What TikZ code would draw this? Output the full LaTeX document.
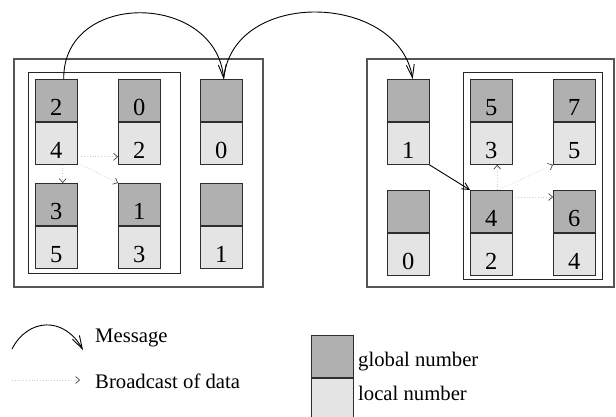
\documentclass[tikz,border=0pt]{standalone}
\usepackage{fontspec}
\setmainfont{Liberation Serif}
\usetikzlibrary{arrows.meta}

\definecolor{globalfill}{RGB}{176,176,176}
\definecolor{localfill}{RGB}{228,228,228}
\definecolor{boxline}{RGB}{85,85,85}
\definecolor{cellline}{RGB}{45,45,45}
\definecolor{bcastline}{RGB}{205,205,205}

\tikzset{
  half/.style={draw=cellline, line width=0.9pt, minimum width=41.5pt,
    minimum height=42pt, inner sep=0pt, anchor=north west},
  glob/.style={half, fill=globalfill},
  loc/.style={half, fill=localfill},
  txt/.style={inner sep=0pt, font=\fontsize{20.7}{24}\selectfont},
  num/.style={inner sep=0pt, anchor=base, font=\fontsize{24.5}{28}\selectfont},
  procbox/.style={draw=boxline, line width=1.1pt},
  groupbox/.style={draw=black!85, line width=0.9pt},
  msg/.style={line width=0.9pt, -{Straight Barb[length=13pt,width=8pt,line width=0.9pt]}},
  bcast/.style={bcastline, dotted, line width=0.8pt,
    -{Straight Barb[length=4pt,width=7pt,color=black!80,line width=0.6pt]}},
  move/.style={line width=0.9pt, -{Straight Barb[length=7pt,width=7pt]}}
}

% a data cell: global number on top, local number below
\newcommand\numcell[5]{%
  \node[glob] (#1g) at (#2,#3) {};
  \node[loc, anchor=north] (#1l) at (#1g.south) {};
  \node[num] (#1gt) at ([yshift=6pt]#1g.south) {#4};
  \node[num] (#1lt) at ([yshift=6pt]#1l.south) {#5};
}

\begin{document}
\begin{tikzpicture}[x=1pt,y=-1pt]
\useasboundingbox (0,0) rectangle (616,416);

% processor 0
\draw[procbox] (14,59) rectangle (263,287);
\draw[groupbox] (28,72) rectangle (180,273);
\numcell{A}{35}{79}{2}{4}
\numcell{B}{118}{79}{0}{2}
\numcell{C}{35}{183}{3}{5}
\numcell{D}{118}{183}{1}{3}
\numcell{E}{200}{79}{}{0}
\numcell{F}{200}{183}{}{1}

% processor 1
\draw[procbox] (367,59) rectangle (614,287);
\draw[groupbox] (463,72) rectangle (602,279);
\numcell{G}{387}{79}{}{1}
\numcell{H}{387}{190}{}{0}
\numcell{I}{470}{79}{5}{3}
\numcell{J}{553}{79}{7}{5}
\numcell{K}{470}{190}{4}{2}
\numcell{L}{553}{190}{6}{4}

% messages between processors
\draw[msg] ([xshift=7.5pt]Ag.north) .. controls (63,-10) and (215,-8) .. ([xshift=2.5pt]Eg.north);
\draw[msg] ([xshift=2.5pt]Eg.north) .. controls (232,-12) and (398,-8) .. ([xshift=4.5pt]Gg.north);

% broadcasts inside processor 0
\draw[bcast] ([xshift=4pt,yshift=8pt]Al.south east) -- ([yshift=8pt]Bl.south west);
\draw[bcast] ([xshift=4pt]Al.south east) -- (Dg.north west);
\draw[bcast] ([xshift=6.5pt]Al.south) -- ([xshift=6.5pt]Cg.north);

% move of data into processor 1's group
\draw[move] (Gl.south east) -- (Kg.north west);

% broadcasts inside processor 1
\draw[bcast] ([xshift=6pt]Kg.north) -- ([xshift=6pt]Il.south);
\draw[bcast] ([xshift=9pt,yshift=1pt]Kg.north) -- (Jl.south west);
\draw[bcast] ([xshift=3pt,yshift=-7pt]Kg.north east) -- ([yshift=-7pt]Lg.north west);

% legend
\coordinate (m1) at (12,349);
\coordinate (m2) at (83,350);
\draw[msg] (m1) .. controls (28,318) and (64,316) .. (m2);
\node[txt, anchor=base west] (lmsg) at (95,342) {Message};

\coordinate (b1) at (12,380);
\coordinate (b2) at (80,380);
\draw[bcast] (b1) -- (b2);
\node[txt, anchor=base west] (lbc) at (95,388) {Broadcast of data};

\node[glob] (kg) at (311,335) {};
\node[loc, anchor=north] (kl) at (kg.south) {};
\node[txt, anchor=base west] (lglob) at (358,366) {global number};
\node[txt, anchor=base west] (lloc) at (358,400) {local number};
\end{tikzpicture}
\end{document}
